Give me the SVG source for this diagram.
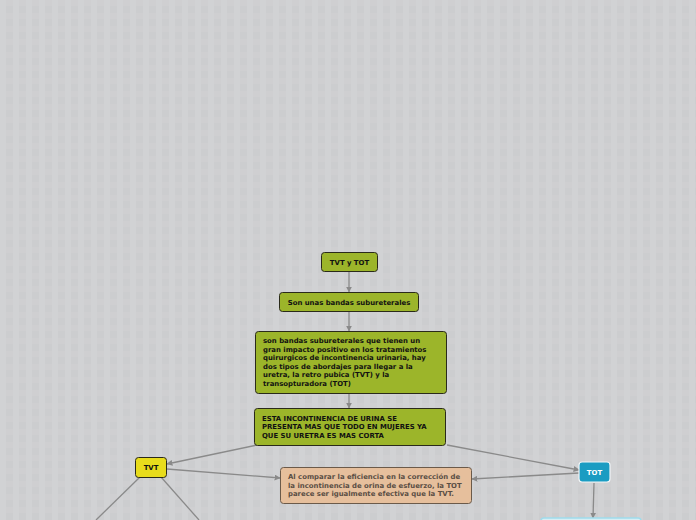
<svg xmlns="http://www.w3.org/2000/svg" width="696" height="520" viewBox="0 0 696 520">
<defs>
<pattern id="grid" width="13" height="13" patternUnits="userSpaceOnUse">
<rect width="13" height="13" fill="#cccdcf"/>
<rect x="0" y="0" width="6" height="13" fill="#d1d2d4"/>
<rect x="0" y="0" width="13" height="6" fill="#d1d2d4" fill-opacity="0.5"/>
</pattern>
<marker id="arr" viewBox="0 0 10 10" refX="9" refY="5" markerWidth="6" markerHeight="6" markerUnits="userSpaceOnUse" orient="auto">
<path d="M0,0 L10,5 L0,10 z" fill="#8a8a8a"/>
</marker>
</defs>
<style>
.g{fill:#9cb52a;stroke:#2a2a1a;stroke-width:1}
.t{font-family:"DejaVu Sans",Verdana,sans-serif;font-weight:bold;font-size:6.9px;fill:#111}
.c{stroke:#8a8a8a;stroke-width:1.3;fill:none}
</style>
<rect width="696" height="520" fill="url(#grid)"/>
<g id="connectors">
<line class="c" x1="349" y1="271" x2="349" y2="292" marker-end="url(#arr)"/>
<line class="c" x1="349" y1="311" x2="349" y2="331" marker-end="url(#arr)"/>
<line class="c" x1="349" y1="393" x2="349" y2="408" marker-end="url(#arr)"/>
<line class="c" x1="257" y1="445" x2="167" y2="464" marker-end="url(#arr)"/>
<line class="c" x1="447" y1="445" x2="579" y2="470" marker-end="url(#arr)"/>
<line class="c" x1="167" y1="469" x2="280" y2="478" marker-end="url(#arr)"/>
<line class="c" x1="579" y1="473" x2="472" y2="479" marker-end="url(#arr)"/>
<line class="c" x1="140" y1="477" x2="96" y2="520"/>
<line class="c" x1="161" y1="477" x2="199" y2="520"/>
<line class="c" x1="594" y1="483" x2="593" y2="518" marker-end="url(#arr)"/>
</g>
<g id="n1">
<rect class="g" x="321.5" y="252.5" width="56" height="19" rx="3"/>
<text class="t" x="349.5" y="264.5" text-anchor="middle">TVT y TOT</text>
</g>
<g id="n2">
<rect class="g" x="279.5" y="292.5" width="139" height="19" rx="3"/>
<text class="t" x="349" y="304.5" text-anchor="middle">Son unas bandas subureterales</text>
</g>
<g id="n3">
<rect class="g" x="255.5" y="331.5" width="191" height="62" rx="3"/>
<text class="t" x="263" y="343">son bandas subureterales que tienen un</text>
<text class="t" x="263" y="351.6">gran impacto positivo en los tratamientos</text>
<text class="t" x="263" y="360.2">quirurgicos de incontinencia urinaria, hay</text>
<text class="t" x="263" y="368.8">dos tipos de abordajes para llegar a la</text>
<text class="t" x="263" y="377.4">uretra, la retro pubica (TVT) y la</text>
<text class="t" x="263" y="386">transopturadora (TOT)</text>
</g>
<g id="n4">
<rect class="g" x="254.5" y="408.5" width="191" height="37" rx="3"/>
<text class="t" x="262" y="420.5">ESTA INCONTINENCIA DE URINA SE</text>
<text class="t" x="262" y="429">PRESENTA MAS QUE TODO EN MUJERES YA</text>
<text class="t" x="262" y="437.5">QUE SU URETRA ES MAS CORTA</text>
</g>
<g id="n5">
<rect x="135.5" y="457.5" width="31" height="20" rx="3" fill="#e8dc1c" stroke="#2a2a1a"/>
<text class="t" x="151" y="470" text-anchor="middle">TVT</text>
</g>
<g id="n6">
<rect x="280.5" y="467.5" width="191" height="36" rx="3" fill="#e6bf9c" stroke="#6b5a4a"/>
<text class="t" x="288" y="479" style="fill:#5a4e44">Al comparar la eficiencia en la corrección de</text>
<text class="t" x="288" y="487.5" style="fill:#5a4e44">la incontinencia de orina de esfuerzo, la TOT</text>
<text class="t" x="288" y="496" style="fill:#5a4e44">parece ser igualmente efectiva que la TVT.</text>
</g>
<g id="n7">
<rect x="579" y="462" width="31" height="20" rx="3" fill="#1a9cc2" stroke="#f2f6f8" stroke-width="1.2"/>
<text class="t" x="594.5" y="474.5" text-anchor="middle" style="fill:#fff">TOT</text>
</g>
<g id="n8">
<rect x="541" y="518" width="100" height="20" rx="3" fill="#d8eef4" stroke="#9fdcec" stroke-width="1.5"/>
</g>
</svg>
